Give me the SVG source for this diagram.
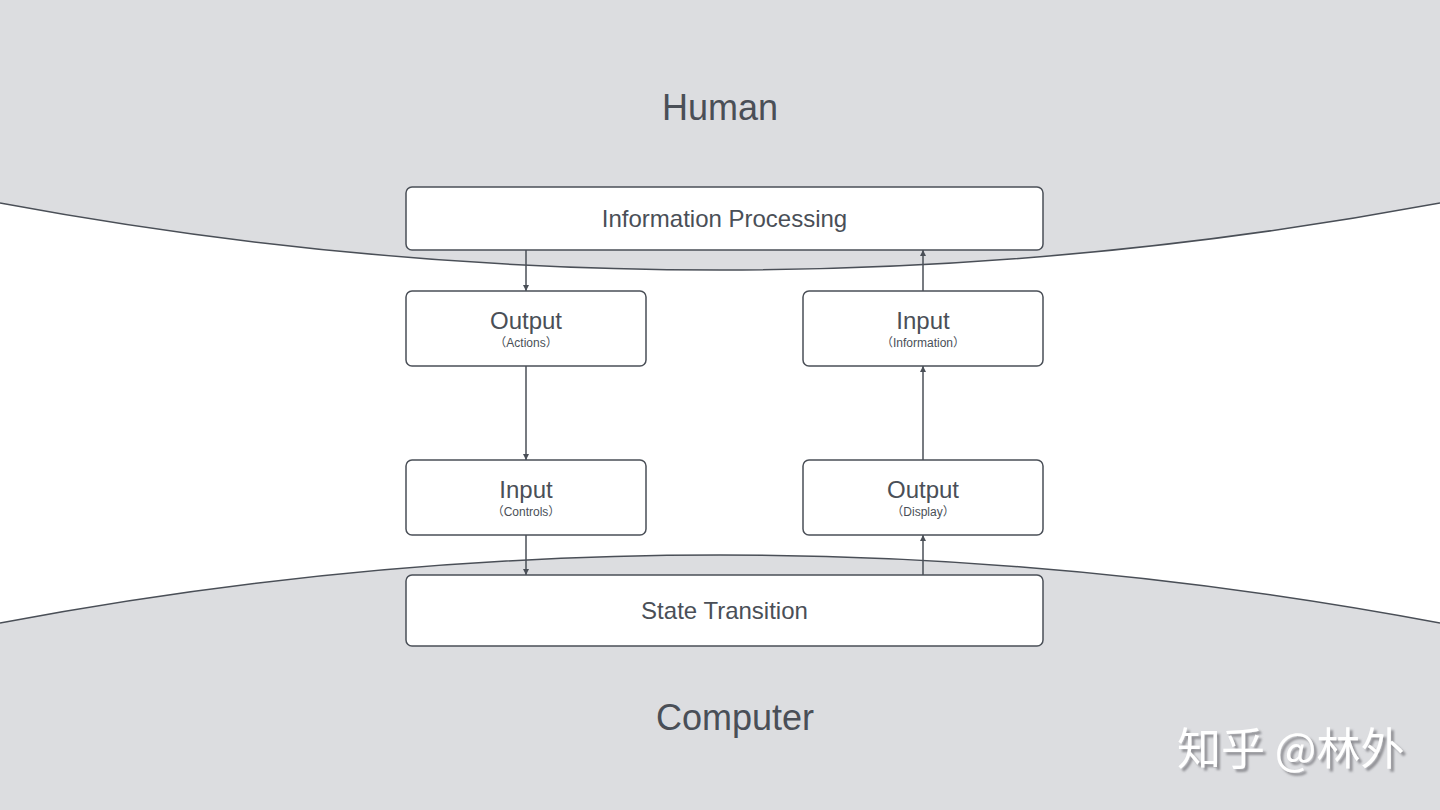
<svg xmlns="http://www.w3.org/2000/svg" width="1440" height="810" viewBox="0 0 1440 810">
<defs>
<style>
.bg{fill:#dcdde0}
.edge{fill:none;stroke:#4a4f57;stroke-width:1.5}
.box{fill:#ffffff;stroke:#4a4f57;stroke-width:1.5}
.t{font-family:"Liberation Sans","Helvetica Neue",Arial,sans-serif;fill:#4a4f57;text-anchor:middle}
.big{font-size:36px}
.mid{font-size:24px}
.sub{font-size:12px;font-family:"Liberation Sans","Noto Sans CJK SC",sans-serif}
.conn{stroke:#4a4f57;stroke-width:1.5;fill:none}
.wm{font-family:"Noto Sans CJK SC","Liberation Sans",sans-serif;font-size:44px;fill:#ffffff}
</style>
<filter id="shadow" x="-10%" y="-30%" width="120%" height="160%">
<feDropShadow dx="3" dy="3" stdDeviation="1" flood-color="#7d7e82" flood-opacity="0.8"/>
</filter>
<marker id="ah" viewBox="0 0 10 10" refX="10" refY="5" markerWidth="6" markerHeight="6" markerUnits="userSpaceOnUse" orient="auto">
<path d="M0,0 L10,5 L0,10 z" fill="#4a4f57"/>
</marker>
</defs>
<rect width="1440" height="810" fill="#ffffff"/>
<g id="human-region">
<path class="bg" d="M0,0 H1440 V203 Q720,337 0,203 Z"/>
<path class="edge" d="M0,203 Q720,337 1440,203"/>
<text class="t big" x="720" y="120">Human</text>
</g>
<g id="computer-region">
<path class="bg" d="M0,810 H1440 V623 Q720,487 0,623 Z"/>
<path class="edge" d="M0,623 Q720,487 1440,623"/>
<text class="t big" x="735" y="730">Computer</text>
</g>
<g id="connectors">
<line class="conn" x1="526" y1="250" x2="526" y2="291" marker-end="url(#ah)"/>
<line class="conn" x1="526" y1="366" x2="526" y2="460" marker-end="url(#ah)"/>
<line class="conn" x1="526" y1="535" x2="526" y2="575" marker-end="url(#ah)"/>
<line class="conn" x1="923" y1="291" x2="923" y2="250" marker-end="url(#ah)"/>
<line class="conn" x1="923" y1="460" x2="923" y2="366" marker-end="url(#ah)"/>
<line class="conn" x1="923" y1="575" x2="923" y2="535" marker-end="url(#ah)"/>
</g>
<g id="info-processing">
<rect class="box" x="406" y="187" width="637" height="63" rx="6"/>
<text class="t mid" x="724.5" y="227">Information Processing</text>
</g>
<g id="output-actions">
<rect class="box" x="406" y="291" width="240" height="75" rx="6"/>
<text class="t mid" x="526" y="329">Output</text>
<text class="t sub" x="526" y="347">（Actions）</text>
</g>
<g id="input-information">
<rect class="box" x="803" y="291" width="240" height="75" rx="6"/>
<text class="t mid" x="923" y="329">Input</text>
<text class="t sub" x="923" y="347">（Information）</text>
</g>
<g id="input-controls">
<rect class="box" x="406" y="460" width="240" height="75" rx="6"/>
<text class="t mid" x="526" y="498">Input</text>
<text class="t sub" x="526" y="516">（Controls）</text>
</g>
<g id="output-display">
<rect class="box" x="803" y="460" width="240" height="75" rx="6"/>
<text class="t mid" x="923" y="498">Output</text>
<text class="t sub" x="923" y="516">（Display）</text>
</g>
<g id="state-transition">
<rect class="box" x="406" y="575" width="637" height="71" rx="6"/>
<text class="t mid" x="724.5" y="619">State Transition</text>
</g>
<g id="watermark">
<text class="wm" x="1177" y="765" filter="url(#shadow)">知乎 @林外</text>
</g>
</svg>
